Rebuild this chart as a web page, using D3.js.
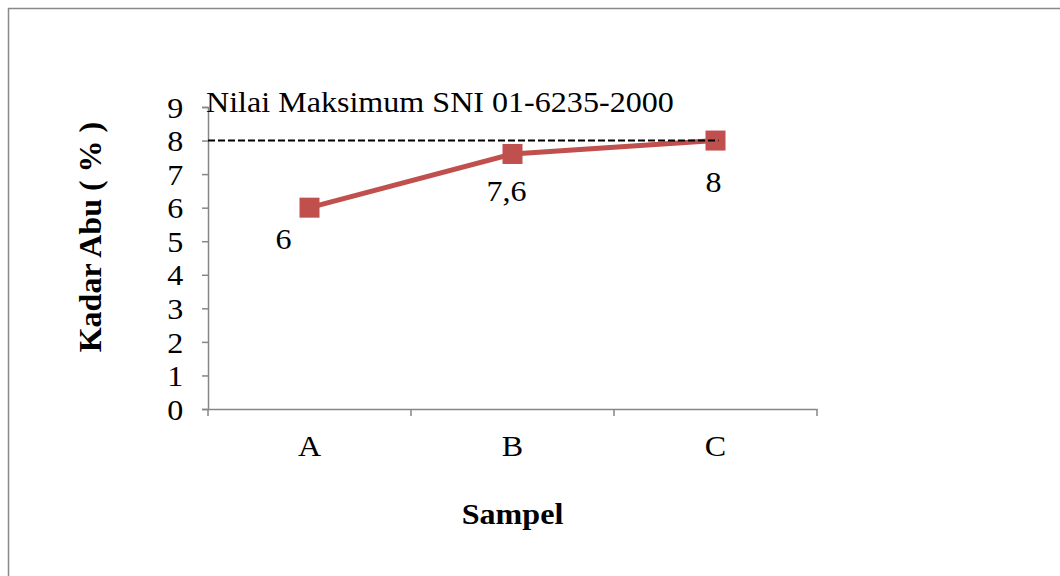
<!DOCTYPE html>
<html>
<head>
<meta charset="utf-8">
<script src="https://cdn.jsdelivr.net/npm/d3@7"></script>
<style>
  body { margin: 0; background: #fff; }
  text { font-family: "Liberation Serif", "Times New Roman", serif; }
</style>
</head>
<body>
<div id="chart"></div>
<script>
// data
var categories = ["A", "B", "C"]
var values = [6, 7.6, 8]
var valueLabels = ["6", "7,6", "8"]
var yTicks = [0, 1, 2, 3, 4, 5, 6, 7, 8, 9]
var limitValue = 8
var limitLabel = "Nilai Maksimum SNI 01-6235-2000"

// set the dimensions of the page
var width = 1060
var height = 576
var stretch = 1.07  // the original text is a bit wider than Liberation Serif

var svg = d3.select("#chart")
  .append("svg")
    .attr("width", width)
    .attr("height", height)

// put a text at x,y with a little horizontal stretch
function place(sel, px, py) {
  return sel.attr("transform", "translate(" + px + "," + py + ") scale(" + stretch + ",1)")
}

// outer frame (runs off the right and bottom of the picture)
svg.append("rect")
  .attr("x", 8.5)
  .attr("y", 8.5)
  .attr("width", 1100)
  .attr("height", 600)
  .attr("fill", "none")
  .attr("stroke", "#898989")
  .attr("stroke-width", 1.5)

// plot area
var plotLeft = 208, plotRight = 817, plotTop = 107, plotBottom = 409

var x = d3.scaleBand()
  .domain(categories)
  .range([plotLeft, plotRight])

var y = d3.scaleLinear()
  .domain([0, 9])
  .range([plotBottom, plotTop])

var axisColor = "#868686"

// y axis
var yAxis = svg.append("g")
  .attr("transform", "translate(" + plotLeft + ",0)")
  .call(d3.axisLeft(y).tickValues(yTicks).tickSize(6).tickPadding(17))
yAxis.select(".domain").attr("stroke", axisColor).attr("stroke-width", 1.5)
yAxis.selectAll(".tick line").attr("stroke", axisColor).attr("stroke-width", 1.5)
yAxis.selectAll(".tick text")
  .attr("fill", "#000")
  .style("font-size", "30px")
  .style("font-family", "Liberation Serif")
  .attr("dy", "0.34em")
  .attr("transform", "scale(" + stretch + ",1)")

// x axis
var xAxis = svg.append("g")
  .attr("transform", "translate(0," + plotBottom + ")")
  .call(d3.axisBottom(x).tickSize(0).tickPadding(26))
xAxis.select(".domain").attr("stroke", axisColor).attr("stroke-width", 1.5)
xAxis.selectAll(".tick text")
  .attr("fill", "#000")
  .style("font-size", "30px")
  .style("font-family", "Liberation Serif")
  .attr("transform", "scale(" + stretch + ",1)")

// x tick marks at the category boundaries
var bounds = categories.map(function(c){ return x(c) }).concat([x(categories[categories.length - 1]) + x.bandwidth()])
svg.append("g")
  .selectAll("line")
  .data(bounds)
  .enter()
  .append("line")
    .attr("x1", function(d){ return d })
    .attr("x2", function(d){ return d })
    .attr("y1", plotBottom)
    .attr("y2", plotBottom + 7)
    .attr("stroke", axisColor)
    .attr("stroke-width", 1.5)

// axis titles
svg.append("text")
  .attr("transform", "translate(101," + ((plotTop + plotBottom) / 2 - 21) + ") rotate(-90)")
  .attr("text-anchor", "middle")
  .style("font-size", "32px")
  .style("font-weight", "bold")
  .text("Kadar Abu ( % )")

place(svg.append("text"), (plotLeft + plotRight) / 2, 524)
  .attr("text-anchor", "middle")
  .style("font-size", "30px")
  .style("font-weight", "bold")
  .text("Sampel")

// series line
var cx = function(d, i){ return x(categories[i]) + x.bandwidth() / 2 }
var line = d3.line()
  .x(cx)
  .y(function(d){ return y(d) })

svg.append("path")
  .datum(values)
  .attr("d", line)
  .attr("fill", "none")
  .attr("stroke", "#C0504D")
  .attr("stroke-width", 5)

svg.append("g")
  .selectAll("rect")
  .data(values)
  .enter()
  .append("rect")
    .attr("x", function(d, i){ return cx(d, i) - 10 })
    .attr("y", function(d){ return y(d) - 10 })
    .attr("width", 20)
    .attr("height", 20)
    .attr("fill", "#C0504D")

// data labels (nudged as in the original)
var labelShift = [[-26, 41], [-6, 47], [-2, 51]]
svg.append("g")
  .selectAll("text")
  .data(values)
  .enter()
  .append("text")
    .attr("transform", function(d, i){
      return "translate(" + (cx(d, i) + labelShift[i][0]) + "," + (y(d) + labelShift[i][1]) + ") scale(" + stretch + ",1)"
    })
    .attr("text-anchor", "middle")
    .style("font-size", "30px")
    .text(function(d, i){ return valueLabels[i] })

// limit line (drawn on top)
svg.append("line")
  .attr("x1", plotLeft)
  .attr("x2", cx(values[2], 2) + 3)
  .attr("y1", y(limitValue))
  .attr("y2", y(limitValue))
  .attr("stroke", "#000")
  .attr("stroke-width", 2)
  .attr("stroke-dasharray", "7,3")

place(svg.append("text"), 206, 112)
  .style("font-size", "30px")
  .text(limitLabel)
</script>
</body>
</html>
